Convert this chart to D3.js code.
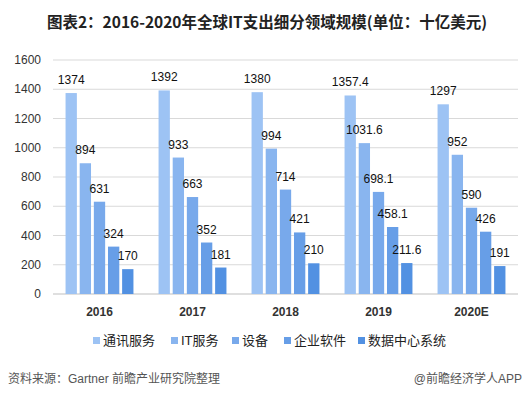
<!DOCTYPE html>
<html>
<head>
<meta charset="utf-8">
<script src="https://cdn.jsdelivr.net/npm/d3@7"></script>
<style>
  body { margin: 0; background: #fff; }
  svg text { font-family: "Liberation Sans", "Noto Sans CJK SC", sans-serif; }
</style>
</head>
<body>
<svg id="chart"></svg>
<script>
// categories and series
const years = ['2016', '2017', '2018', '2019', '2020E']
const seriesNames = ['通讯服务', 'IT服务', '设备', '企业软件', '数据中心系统']
const telecom = [1374, 1392, 1380, 1357.4, 1297]
const itServices = [894, 933, 994, 1031.6, 952]
const devices = [631, 663, 714, 698.1, 590]
const software = [324, 352, 421, 458.1, 426]
const dataCenter = [170, 181, 210, 211.6, 191]
const yTicks = [0, 200, 400, 600, 800, 1000, 1200, 1400, 1600]
const colors = ['#9dc3f4', '#89b5ef', '#78a9eb', '#679ee7', '#5291e2']

const width = 530, height = 398
const margin = { top: 60, right: 12, bottom: 104, left: 53 }

const values = [telecom, itServices, devices, software, dataCenter]
const data = years.map((yr, i) => {
  const row = { year: yr }
  seriesNames.forEach((k, j) => { row[k] = values[j][i] })
  return row
})

const svg = d3.select('#chart').attr('width', width).attr('height', height)

// title
svg.append('text')
  .attr('x', width / 2 + 2)
  .attr('y', 28)
  .attr('text-anchor', 'middle')
  .style('font-family', '"Noto Sans CJK SC", sans-serif')
  .style('font-size', '15.5px')
  .style('font-weight', 'bold')
  .attr('fill', '#222')
  .text('图表2：2016-2020年全球IT支出细分领域规模(单位：十亿美元)')

const w = width - margin.left - margin.right
const h = height - margin.top - margin.bottom
const g = svg.append('g').attr('transform', `translate(${margin.left},${margin.top})`)

const x0 = d3.scaleBand().domain(years).range([0, w]).paddingInner(0.27).paddingOuter(0.135)
const x1 = d3.scaleBand().domain(seriesNames).range([0, x0.bandwidth()]).paddingInner(0.2)
const y = d3.scaleLinear().domain([0, 1600]).range([h, 0])

// grid + y labels
g.append('g')
  .selectAll('line')
  .data(yTicks)
  .enter().append('line')
  .attr('x1', 0).attr('x2', w)
  .attr('y1', d => y(d)).attr('y2', d => y(d))
  .attr('stroke', d => d === 0 ? '#bfbfbf' : '#d9d9d9')
  .attr('stroke-width', 1)

g.append('g')
  .selectAll('text')
  .data(yTicks)
  .enter().append('text')
  .attr('x', -12)
  .attr('y', d => y(d))
  .attr('dy', '0.35em')
  .attr('text-anchor', 'end')
  .style('font-size', '12px')
  .attr('fill', '#333')
  .text(d => d)

// bars
const groups = g.append('g')
  .selectAll('g')
  .data(data)
  .enter().append('g')
  .attr('transform', d => `translate(${x0(d.year)},0)`)

const cells = groups.selectAll('g')
  .data(d => seriesNames.map((k, j) => ({ key: k, value: d[k], idx: j })))
  .enter().append('g')

cells.append('rect')
  .attr('x', d => x1(d.key))
  .attr('y', d => y(d.value))
  .attr('width', x1.bandwidth())
  .attr('height', d => h - y(d.value))
  .attr('fill', d => colors[d.idx])

cells.append('text')
  .attr('x', d => x1(d.key) + x1.bandwidth() / 2)
  .attr('y', d => y(d.value) - 9)
  .attr('text-anchor', 'middle')
  .style('font-size', '12px')
  .attr('fill', '#111')
  .text(d => d.value)

// x labels
g.append('g')
  .selectAll('text')
  .data(years)
  .enter().append('text')
  .attr('x', d => x0(d) + x0.bandwidth() / 2)
  .attr('y', h + 22)
  .attr('text-anchor', 'middle')
  .style('font-size', '12px')
  .style('font-weight', 'bold')
  .attr('fill', '#333')
  .text(d => d)

// legend
const legendX = [93, 171, 232, 284, 358]
const legend = svg.append('g')
  .selectAll('g')
  .data(seriesNames)
  .enter().append('g')
  .attr('transform', (d, i) => `translate(${legendX[i]},337)`)
legend.append('rect')
  .attr('width', 7).attr('height', 7)
  .attr('fill', (d, i) => colors[i])
legend.append('text')
  .attr('x', 10).attr('y', 3.5)
  .attr('dy', '0.38em')
  .style('font-size', '13px')
  .attr('fill', '#222')
  .text(d => d)

// footer
svg.append('text')
  .attr('x', 8).attr('y', 383)
  .style('font-size', '12px')
  .attr('fill', '#555')
  .text('资料来源：Gartner 前瞻产业研究院整理')
svg.append('text')
  .attr('x', 522).attr('y', 383)
  .attr('text-anchor', 'end')
  .style('font-size', '12px')
  .attr('fill', '#555')
  .text('@前瞻经济学人APP')
</script>
</body>
</html>
